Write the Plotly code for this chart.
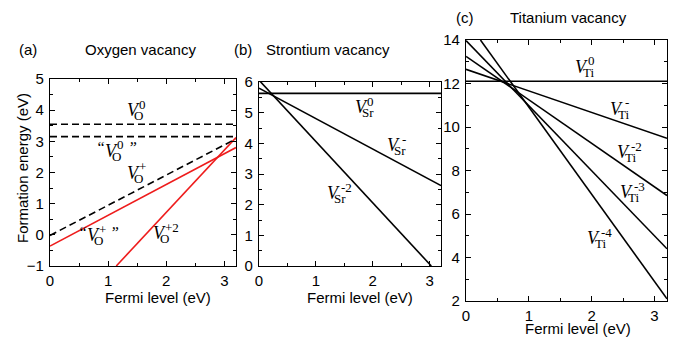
import plotly.graph_objects as go

W, H = 674, 339

# ---------------- data ----------------
# (a) Oxygen vacancy
vo0_x = [0, 3.2];        vo0_y = [3.55, 3.55]
vo0q_x = [0, 3.2];       vo0q_y = [3.15, 3.15]
vopq_x = [0, 3.2];       vopq_y = [-0.02, 3.08]
vop_x = [0, 3.2];        vop_y = [-0.36, 2.8]
vop2_x = [1.14, 3.2];    vop2_y = [-1.0, 3.12]

# (b) Strontium vacancy
vsr0_x = [0, 3.2];       vsr0_y = [5.63, 5.63]
vsr1_x = [0, 3.2];       vsr1_y = [5.8, 2.62]
vsr2_x = [0, 3.03];      vsr2_y = [6.06, 0.0]

# (c) Titanium vacancy
vti0_x = [0, 3.2];       vti0_y = [12.1, 12.1]
vti1_x = [0, 3.2];       vti1_y = [12.65, 9.48]
vti2_x = [0, 3.2];       vti2_y = [13.25, 6.85]
vti3_x = [0, 3.2];       vti3_y = [13.97, 4.4]
vti4_x = [0.23, 3.2];    vti4_y = [14.0, 2.1]

xticks = [0, 1, 2, 3]
a_yticks = [-1, 0, 1, 2, 3, 4, 5]
b_yticks = [0, 1, 2, 3, 4, 5, 6]
c_yticks = [2, 4, 6, 8, 10, 12, 14]

# ---------------- figure ----------------
fig = go.Figure()
BLACK = "black"
RED = "#ee1c1c"

def line(x, y, xa, ya, color=BLACK, dash="solid", width=1.6):
    fig.add_trace(go.Scatter(x=x, y=y, mode="lines", xaxis=xa, yaxis=ya,
                             line=dict(color=color, width=width, dash=dash),
                             showlegend=False, hoverinfo="skip"))

DASH = "7px,4px"
line(vo0_x, vo0_y, "x", "y", dash=DASH)
line(vo0q_x, vo0q_y, "x", "y", dash=DASH)
line(vopq_x, vopq_y, "x", "y", dash=DASH)
line(vop_x, vop_y, "x", "y", color=RED)
line(vop2_x, vop2_y, "x", "y", color=RED)

line(vsr0_x, vsr0_y, "x2", "y2")
line(vsr1_x, vsr1_y, "x2", "y2")
line(vsr2_x, vsr2_y, "x2", "y2")

line(vti0_x, vti0_y, "x3", "y3")
line(vti1_x, vti1_y, "x3", "y3")
line(vti2_x, vti2_y, "x3", "y3")
line(vti3_x, vti3_y, "x3", "y3")
line(vti4_x, vti4_y, "x3", "y3")

def px(x0, x1):
    return [x0 / W, x1 / W]

def py(ytop, ybot):
    return [(H - ybot) / H, (H - ytop) / H]

TICKFONT = dict(family="Liberation Sans, Arial", size=15, color="black")

def xaxis(dom, anchor):
    return dict(domain=dom, anchor=anchor, range=[0, 3.2], tickvals=xticks,
                ticks="inside", ticklen=5, tickwidth=1, tickcolor="black",
                minor=dict(dtick=0.5, tick0=0, ticks="inside", ticklen=3, tickcolor="black"),
                showline=True, linecolor="black", linewidth=1.2, mirror="allticks",
                showgrid=False, zeroline=False, tickfont=TICKFONT, ticklabelstandoff=1,
                automargin=False)

def yaxis(dom, anchor, rng, tv, minor):
    return dict(domain=dom, anchor=anchor, range=rng, tickvals=tv,
                ticks="inside", ticklen=5, tickwidth=1, tickcolor="black",
                minor=dict(dtick=minor, ticks="inside", ticklen=3, tickcolor="black"),
                showline=True, linecolor="black", linewidth=1.2, mirror="allticks",
                showgrid=False, zeroline=False, tickfont=TICKFONT, ticklabelstandoff=2,
                automargin=False)

fig.update_layout(
    width=W, height=H, margin=dict(l=0, r=0, t=0, b=0, pad=0, autoexpand=False),
    paper_bgcolor="white", plot_bgcolor="white", showlegend=False,
    xaxis=xaxis(px(50, 236), "y"),
    yaxis=yaxis(py(79, 266), "x", [-1, 5], a_yticks, 0.5),
    xaxis2=xaxis(px(259, 441), "y2"),
    yaxis2=yaxis(py(82, 266), "x2", [0, 6], b_yticks, 0.5),
    xaxis3=xaxis(px(466, 667), "y3"),
    yaxis3=yaxis(py(40, 301), "x3", [2, 14], c_yticks, 1),
)

ann = []
SANS = dict(family="Liberation Sans, Arial", size=15, color="black")

def paper_text(x, y, text, font=SANS, angle=0, xanchor="center"):
    ann.append(dict(x=x / W, y=1 - y / H, xref="paper", yref="paper", text=text,
                    showarrow=False, font=font, textangle=angle, borderpad=0,
                    xanchor=xanchor, yanchor="middle"))

paper_text(28, 50, "(a)")
paper_text(140, 50, "Oxygen vacancy")
paper_text(243, 50, "(b)")
paper_text(328, 50, "Strontium vacancy")
paper_text(465, 17, "(c)")
paper_text(568, 17, "Titanium vacancy")
paper_text(158, 297, "Fermi level (eV)")
paper_text(360, 297, "Fermi level (eV)")
paper_text(578, 328, "Fermi level (eV)")
paper_text(22, 168, "Formation energy (eV)", angle=-90)

SERIF = "Liberation Serif, Times New Roman, serif"
VFONT = dict(family=SERIF, size=18, color="black")
SFONT = dict(family=SERIF, size=13, color="black")
QFONT = dict(family=SERIF, size=16, color="black")

def lab(xl, yc, sub, sup, quote=False, sub_dx=6, sup_dx=11):
    # xl: left pixel of V, yc: vertical pixel centre of V
    paper_text(xl - 1, yc + 1, "<i>V</i>", font=VFONT, xanchor="left")
    paper_text(xl + sub_dx, yc + 6, sub, font=SFONT, xanchor="left")
    paper_text(xl + sup_dx, yc - 5, sup, font=SFONT, xanchor="left")
    if quote:
        paper_text(xl + 1, yc - 2, "<i>“</i>", font=QFONT, xanchor="right")
        paper_text(xl + 22, yc - 2, "<i>”</i>", font=QFONT, xanchor="left")

lab(127, 109, "O", "0")
lab(105, 150, "O", "0", quote=True)
lab(127, 172, "O", "+")
lab(87, 234, "O", "+", quote=True)
lab(153, 232, "O", "+2")

lab(355, 106, "Sr", "0", sub_dx=6, sup_dx=11)
lab(387, 144, "Sr", "-", sub_dx=6, sup_dx=14)
lab(327, 192, "Sr", "-2", sub_dx=6, sup_dx=13)

lab(575, 66, "Ti", "0", sub_dx=7, sup_dx=12)
lab(610, 108, "Ti", "-", sub_dx=7, sup_dx=14)
lab(617, 151, "Ti", "-2", sub_dx=7, sup_dx=13)
lab(620, 191, "Ti", "-3", sub_dx=7, sup_dx=13)
lab(587, 237, "Ti", "-4", sub_dx=7, sup_dx=13)

fig.update_layout(annotations=ann)
fig.write_html("out.html")
